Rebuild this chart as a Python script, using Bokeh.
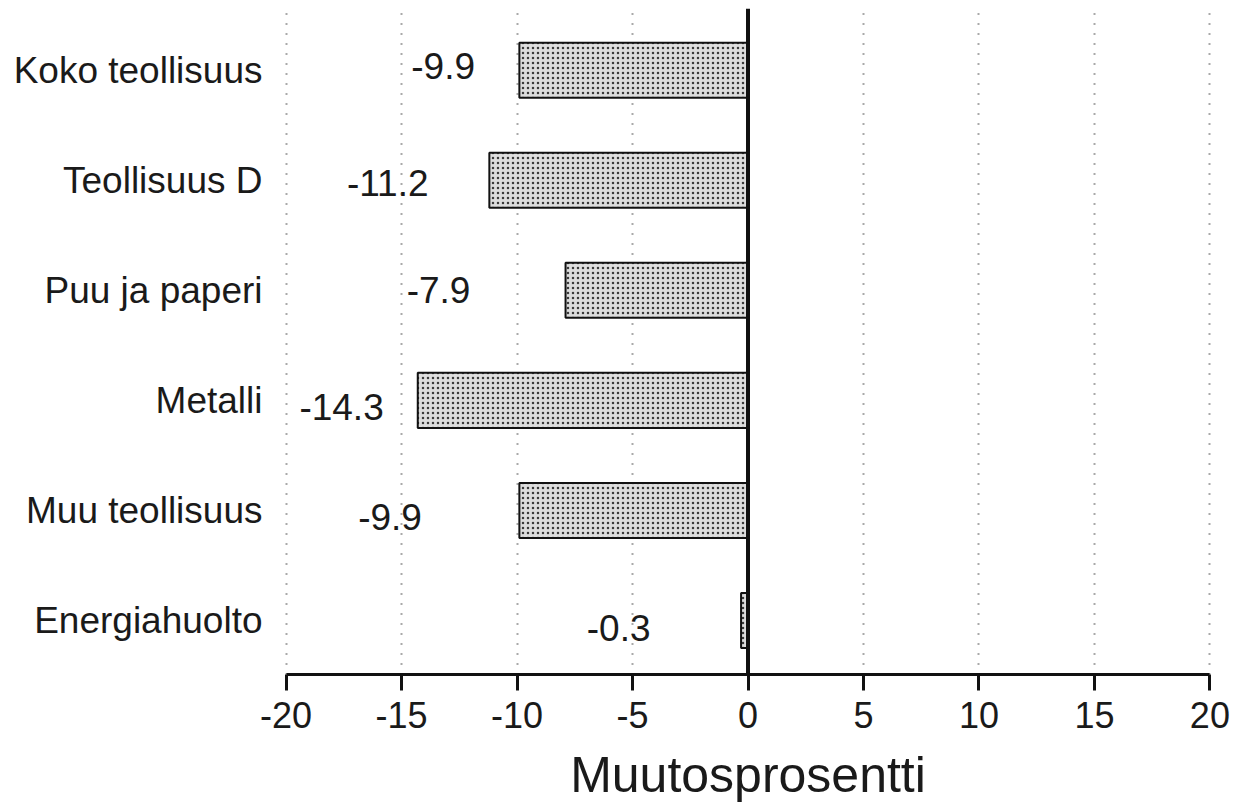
from bokeh.plotting import figure
from bokeh.models import ColumnDataSource, FixedTicker, Span
from bokeh.embed import file_html
from bokeh.resources import INLINE
from bokeh.core.properties import value

categories = ["Koko teollisuus", "Teollisuus D", "Puu ja paperi", "Metalli",
              "Muu teollisuus", "Energiahuolto"]
values = [-9.9, -11.2, -7.9, -14.3, -9.9, -0.3]
value_texts = ["-9.9", "-11.2", "-7.9", "-14.3", "-9.9", "-0.3"]
label_x = [-13.2, -15.6, -13.4, -17.6, -15.5, -5.6]
label_dy = [0.035, -0.023, 0.0, -0.06, -0.06, -0.07]
x_ticks = [-20, -15, -10, -5, 0, 5, 10, 15, 20]
x_tick_labels = ["-20", "-15", "-10", "-5", "0", "5", "10", "15", "20"]
axis_title = "Muutosprosentti"

n = len(categories)
ypos = [n - 1 - i for i in range(n)]
FONT = "Liberation Sans"

src = ColumnDataSource(dict(y=ypos, v=values, zero=[0] * n))
lab = ColumnDataSource(dict(x=label_x, y=[y + d for y, d in zip(ypos, label_dy)], t=value_texts))

p = figure(width=1234, height=797, frame_width=933, frame_height=666,
           x_range=(-20.2, 20.2), y_range=(-0.49, 5.56),
           output_backend="svg", toolbar_location=None,
           min_border_left=281, min_border_right=20, min_border_top=8, min_border_bottom=123)
p.outline_line_color = None
p.background_fill_color = "white"

# grid
p.xgrid.ticker = FixedTicker(ticks=x_ticks)
p.xgrid.grid_line_color = "#555555"
p.xgrid.grid_line_dash = "1 9"
p.xgrid.grid_line_width = 2
p.ygrid.grid_line_color = None

# bars
p.hbar(y="y", left="v", right="zero", height=0.5, source=src,
       fill_color="#dddddd", line_color="#111111", line_width=2,
       hatch_pattern="dot", hatch_color="#3a3a3a", hatch_scale=5, hatch_weight=1.5)

# zero line
p.add_layout(Span(location=0, dimension="height", line_color="#111111", line_width=4))

# value labels
p.text(x="x", y="y", text="t", source=lab, text_align="center", text_baseline="middle",
       text_font=value(FONT), text_font_size="37px", text_color="#1a1a1a")

# x axis
xa = p.xaxis[0]
xa.ticker = FixedTicker(ticks=x_ticks)
xa.major_label_overrides = {t: s for t, s in zip(x_ticks, x_tick_labels)}
xa.bounds = (-20, 20)
xa.axis_line_width = 3
xa.axis_line_color = "#111111"
xa.major_tick_line_width = 3
xa.major_tick_line_color = "#111111"
xa.major_tick_out = 16
xa.major_tick_in = 0
xa.minor_tick_line_color = None
xa.major_label_text_font = FONT
xa.major_label_text_font_size = "36px"
xa.major_label_text_color = "#1a1a1a"
xa.major_label_standoff = 11
xa.axis_label = axis_title
xa.axis_label_text_font = FONT
xa.axis_label_text_font_size = "50px"
xa.axis_label_text_font_style = "normal"
xa.axis_label_text_color = "#1a1a1a"
xa.axis_label_standoff = 16

# y axis (category labels)
ya = p.yaxis[0]
ya.ticker = FixedTicker(ticks=ypos)
ya.major_label_overrides = {y: c for y, c in zip(ypos, categories)}
ya.axis_line_color = None
ya.major_tick_line_color = None
ya.minor_tick_line_color = None
ya.major_tick_out = 0
ya.major_tick_in = 0
ya.major_label_standoff = 19
ya.major_label_text_font = FONT
ya.major_label_text_font_size = "37px"
ya.major_label_text_color = "#1a1a1a"

open("out.html", "w").write(file_html(p, INLINE))
